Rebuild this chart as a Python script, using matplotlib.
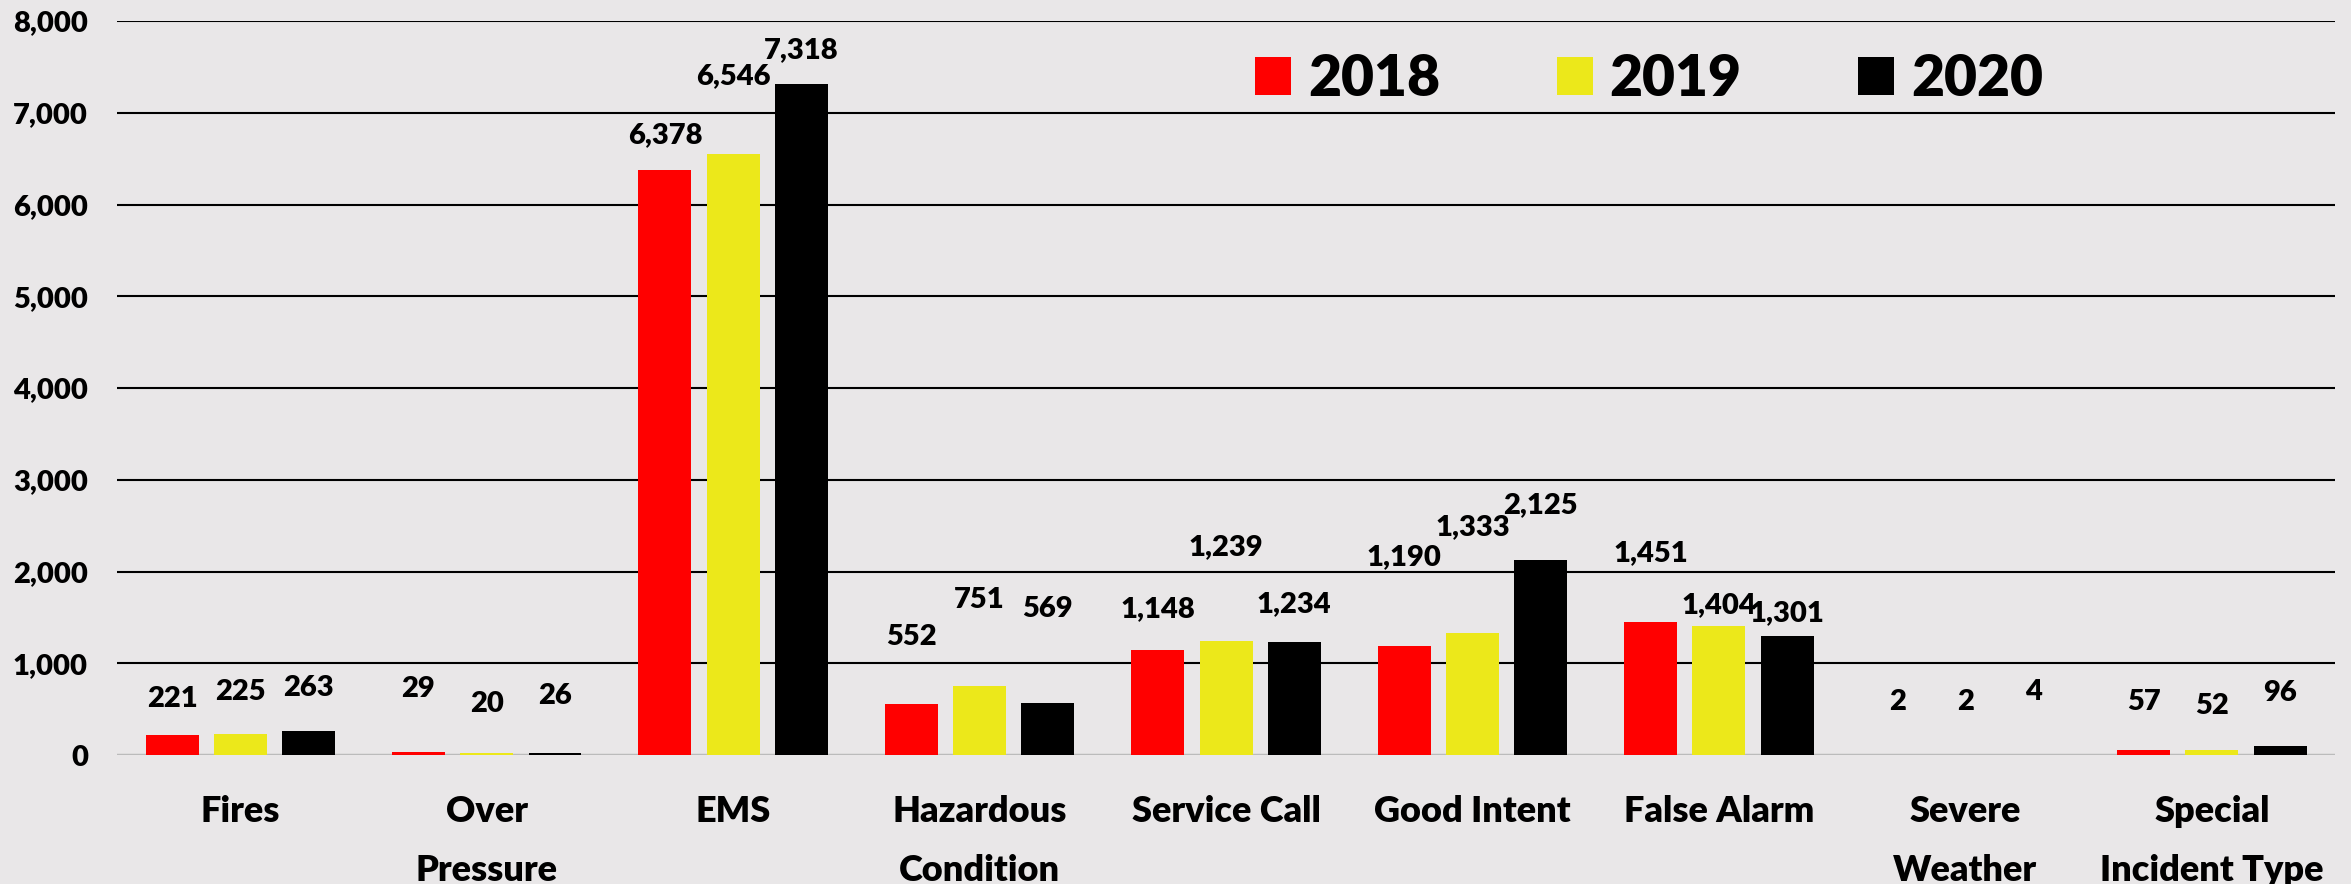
import numpy as np
import matplotlib.pyplot as plt
from matplotlib.ticker import FuncFormatter

# incident counts by category and year
categories = [
    "Fires",
    "Over\nPressure",
    "EMS",
    "Hazardous\nCondition",
    "Service Call",
    "Good Intent",
    "False Alarm",
    "Severe\nWeather",
    "Special\nIncident Type",
]
years = ["2018", "2019", "2020"]
counts_2018 = [221, 29, 6378, 552, 1148, 1190, 1451, 2, 57]
counts_2019 = [225, 20, 6546, 751, 1239, 1333, 1404, 2, 52]
counts_2020 = [263, 26, 7318, 569, 1234, 2125, 1301, 4, 96]

# label lift above each bar (data units), as hand-placed in the original
lift_2018 = [390, 690, 380, 735, 445, 970, 750, 575, 520]
lift_2019 = [460, 535, 855, 940, 1030, 1150, 230, 575, 480]
lift_2020 = [465, 615, 370, 1020, 415, 600, 250, 680, 580]

colors = ["#ff0000", "#ece81a", "#000000"]
bg = "#e9e7e8"
W = "heavy"

plt.rcParams["font.family"] = ["Lato", "DejaVu Sans"]
plt.rcParams["font.weight"] = W

fig = plt.figure(figsize=(23.51, 8.84), dpi=100, facecolor=bg)
ax = fig.add_axes([0.0498, 0.1459, 0.9434, 0.8303], facecolor=bg)

x = np.arange(len(categories))
step = 0.277
width = 0.215

series = [counts_2018, counts_2019, counts_2020]
lifts = [lift_2018, lift_2019, lift_2020]
for i, (vals, lift, color, year) in enumerate(zip(series, lifts, colors, years)):
    xs = x + (i - 1) * step
    ax.bar(xs, vals, width=width, color=color, label=year, zorder=2)
    for xi, v, dy in zip(xs, vals, lift):
        ax.text(xi, v + dy, f"{v:,}", ha="center", va="center",
                fontsize=21, fontweight=W, color="black")

ax.set_xlim(-0.5, len(categories) - 0.5)
ax.set_ylim(0, 8000)
ax.set_yticks(np.arange(0, 8001, 1000))
ax.yaxis.set_major_formatter(FuncFormatter(lambda v, p: f"{int(v):,}"))

ax.set_axisbelow(True)
ax.grid(axis="y", color="black", linewidth=1.5)
ax.axhline(0, color="#d2d2d2", linewidth=2, zorder=1.5)

for s in ax.spines.values():
    s.set_visible(False)

ax.set_xticks(x)
ax.set_xticklabels(categories, fontsize=26, fontweight=W, linespacing=1.95)
ax.tick_params(axis="x", length=0, pad=29)
ax.tick_params(axis="y", length=0, pad=21, labelsize=21)
for lbl in ax.get_yticklabels():
    lbl.set_fontweight(W)

ax.legend(
    loc="center left",
    bbox_to_anchor=(0.513, 0.921),
    ncol=3,
    frameon=False,
    prop={"weight": W, "size": 41},
    handlelength=0.63,
    handleheight=0.63,
    handletextpad=0.3,
    columnspacing=2.05,
    borderpad=0,
    borderaxespad=0,
)

plt.savefig("out.png", dpi=100, facecolor=bg)
